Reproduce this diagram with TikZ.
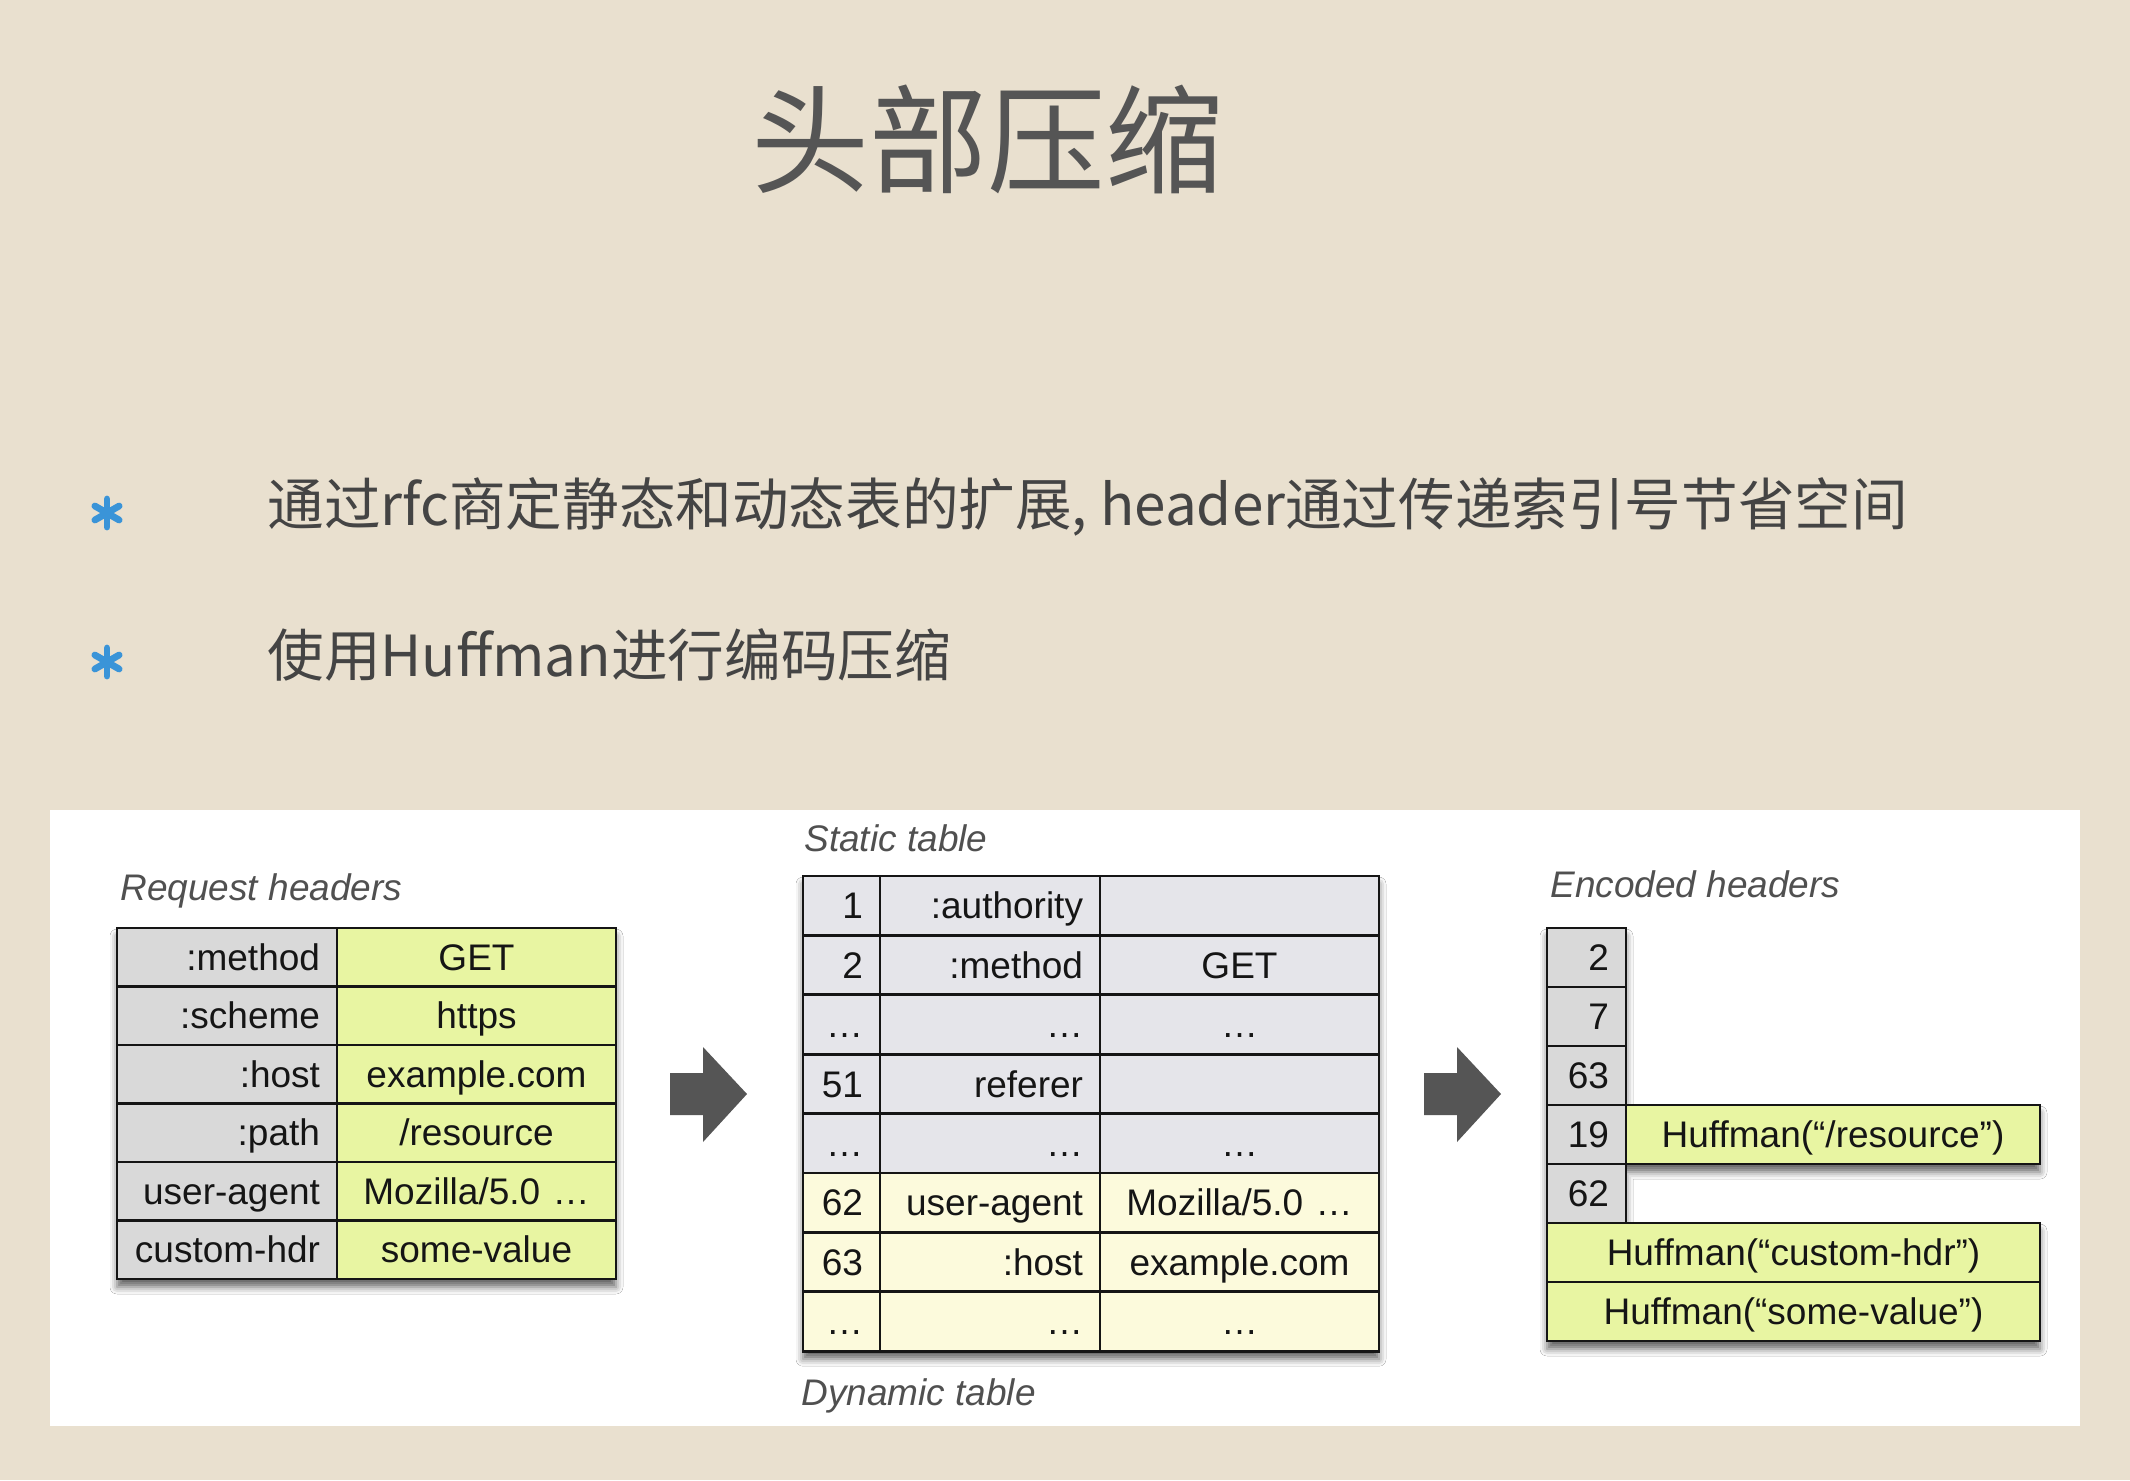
\documentclass[tikz,border=0pt]{standalone}
\usepackage{fontspec}
\setmainfont{Liberation Sans}
\newfontfamily\cjk{Noto Sans CJK SC}
\usetikzlibrary{shadows.blur}
\definecolor{bg}{HTML}{E9E0CF}
\definecolor{titlec}{HTML}{555555}
\definecolor{bodyc}{HTML}{444444}
\definecolor{starc}{HTML}{3A94D8}
\definecolor{reqgray}{HTML}{D9D9D9}
\definecolor{lime}{HTML}{E8F5A2}
\definecolor{stgray}{HTML}{E5E5EA}
\definecolor{dyny}{HTML}{FCFADC}
\definecolor{labelc}{HTML}{505050}
\definecolor{arrowc}{HTML}{555555}
\definecolor{inkc}{HTML}{151515}
\tikzset{
  cellbox/.style={draw=inkc, line width=1.4pt, inner xsep=8.5pt, inner ysep=0pt,
    text height=13.2pt, text depth=0pt, font=\fontsize{18.5}{20}\selectfont, text=inkc},
  tlabel/.style={font=\itshape\fontsize{18.5}{20}\selectfont, text=labelc, anchor=base west, inner sep=0pt},
  blockarrow/.style={fill=arrowc},
  astk/.style={draw=starc, line width=3.4pt, line cap=round},
  shadowed/.style={fill=white, blur shadow={shadow xshift=0pt, shadow yshift=-4pt, shadow blur radius=3.5pt, shadow opacity=60}},
  titletext/.style={font=\cjk\fontsize{59}{70}\selectfont, text=titlec, inner sep=0pt},
  bodytext/.style={font=\cjk\fontsize{28.3}{34}\selectfont, text=bodyc, anchor=west, inner sep=0pt}
}
% \tcell[align]{name}{x1}{y1}{x2}{y2}{fill}{text}
\newcommand\tcell[8][center]{%
  \pgfmathsetmacro\mycw{(#5-#3)*0.5-17}%
  \pgfmathsetmacro\mych{(#6-#4)*0.5}%
  \node[cellbox, fill=#7, minimum height=\mych pt, text width=\mycw pt, align=#1] (#2) at ({(#3+#5)/2},{(#4+#6)/2}) {#8};%
}
\begin{document}
\begin{tikzpicture}[x=0.5pt, y=-0.5pt]
\useasboundingbox (0,0) rectangle (2130,1480);
\fill[bg] (0,0) rectangle (2130,1480);
\fill[white] (50,810) rectangle (2080,1426);

% title and bullets
\node[titletext] (title) at (987,139) {头部压缩};
\foreach \a in {90,30,150} {
  \draw[astk] (107,513) ++(\a:14) -- ++(\a+180:28);
  \draw[astk] (107,662) ++(\a:14) -- ++(\a+180:28);
}
\node[bodytext] (b1) at (267,507) {通过rfc商定静态和动态表的扩展, header通过传递索引号节省空间};
\node[bodytext] (b2) at (267,655) {使用Huffman进行编码压缩};

% shadows
\fill[shadowed] (117,928) rectangle (616,1279);
\fill[shadowed] (803,876) rectangle (1379,1351.2);
\fill[shadowed] (1547,928) -- (1626,928) -- (1626,1105) -- (2040,1105) -- (2040,1164)
  -- (1626,1164) -- (1626,1223) -- (2040,1223) -- (2040,1341) -- (1547,1341) -- cycle;

% labels
\node[tlabel] (lreq) at (120,900) {Request headers};
\node[tlabel] (lst) at (804,851) {Static table};
\node[tlabel] (ldyn) at (801,1405) {Dynamic table};
\node[tlabel] (lenc) at (1550,897) {Encoded headers};

% request headers table
\tcell[right]{rk1}{117}{928}{337}{986.5}{reqgray}{:method}
\tcell{rv1}{337}{928}{616}{986.5}{lime}{GET}
\tcell[right]{rk2}{117}{986.5}{337}{1045}{reqgray}{:scheme}
\tcell{rv2}{337}{986.5}{616}{1045}{lime}{https}
\tcell[right]{rk3}{117}{1045}{337}{1103.5}{reqgray}{:host}
\tcell{rv3}{337}{1045}{616}{1103.5}{lime}{example.com}
\tcell[right]{rk4}{117}{1103.5}{337}{1162}{reqgray}{:path}
\tcell{rv4}{337}{1103.5}{616}{1162}{lime}{/resource}
\tcell[right]{rk5}{117}{1162}{337}{1220.5}{reqgray}{user-agent}
\tcell{rv5}{337}{1162}{616}{1220.5}{lime}{Mozilla/5.0 …}
\tcell[right]{rk6}{117}{1220.5}{337}{1279}{reqgray}{custom-hdr}
\tcell{rv6}{337}{1220.5}{616}{1279}{lime}{some-value}

% static / dynamic table
\tcell[right]{si1}{803}{876}{880}{935.4}{stgray}{1}
\tcell[right]{sk1}{880}{876}{1100}{935.4}{stgray}{:authority}
\tcell{sv1}{1100}{876}{1379}{935.4}{stgray}{}
\tcell[right]{si2}{803}{935.4}{880}{994.8}{stgray}{2}
\tcell[right]{sk2}{880}{935.4}{1100}{994.8}{stgray}{:method}
\tcell{sv2}{1100}{935.4}{1379}{994.8}{stgray}{GET}
\tcell[right]{si3}{803}{994.8}{880}{1054.2}{stgray}{…}
\tcell[right]{sk3}{880}{994.8}{1100}{1054.2}{stgray}{…}
\tcell{sv3}{1100}{994.8}{1379}{1054.2}{stgray}{…}
\tcell[right]{si4}{803}{1054.2}{880}{1113.6}{stgray}{51}
\tcell[right]{sk4}{880}{1054.2}{1100}{1113.6}{stgray}{referer}
\tcell{sv4}{1100}{1054.2}{1379}{1113.6}{stgray}{}
\tcell[right]{si5}{803}{1113.6}{880}{1173}{stgray}{…}
\tcell[right]{sk5}{880}{1113.6}{1100}{1173}{stgray}{…}
\tcell{sv5}{1100}{1113.6}{1379}{1173}{stgray}{…}
\tcell[right]{di1}{803}{1173}{880}{1232.4}{dyny}{62}
\tcell[right]{dk1}{880}{1173}{1100}{1232.4}{dyny}{user-agent}
\tcell{dv1}{1100}{1173}{1379}{1232.4}{dyny}{Mozilla/5.0 …}
\tcell[right]{di2}{803}{1232.4}{880}{1291.8}{dyny}{63}
\tcell[right]{dk2}{880}{1232.4}{1100}{1291.8}{dyny}{:host}
\tcell{dv2}{1100}{1232.4}{1379}{1291.8}{dyny}{example.com}
\tcell[right]{di3}{803}{1291.8}{880}{1351.2}{dyny}{…}
\tcell[right]{dk3}{880}{1291.8}{1100}{1351.2}{dyny}{…}
\tcell{dv3}{1100}{1291.8}{1379}{1351.2}{dyny}{…}

% encoded headers
\tcell[right]{e1}{1547}{928}{1626}{987}{reqgray}{2}
\tcell[right]{e2}{1547}{987}{1626}{1046}{reqgray}{7}
\tcell[right]{e3}{1547}{1046}{1626}{1105}{reqgray}{63}
\tcell[right]{e4}{1547}{1105}{1626}{1164}{reqgray}{19}
\tcell{h1}{1626}{1105}{2040}{1164}{lime}{Huffman(“/resource”)}
\tcell[right]{e5}{1547}{1164}{1626}{1223}{reqgray}{62}
\tcell{h2}{1547}{1223}{2040}{1282}{lime}{Huffman(“custom-hdr”)}
\tcell{h3}{1547}{1282}{2040}{1341}{lime}{Huffman(“some-value”)}

% block arrows
\fill[blockarrow] (670,1073) -- (703,1073) -- (703,1047) -- (747,1094) -- (703,1142) -- (703,1115) -- (670,1115) -- cycle;
\fill[blockarrow] (1424,1073) -- (1457,1073) -- (1457,1047) -- (1501,1094) -- (1457,1142) -- (1457,1115) -- (1424,1115) -- cycle;
\end{tikzpicture}
\end{document}
